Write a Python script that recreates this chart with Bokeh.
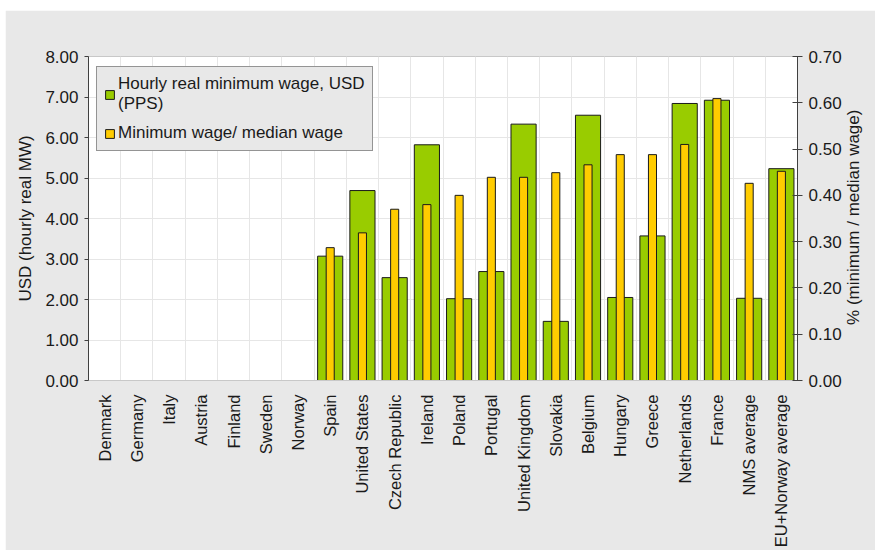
import math
from bokeh.plotting import figure
from bokeh.models import (ColumnDataSource, Range1d, LinearAxis, FixedTicker,
                          NumeralTickFormatter, Legend, LegendItem, FactorRange)
from bokeh.embed import file_html
from bokeh.resources import INLINE

# ---- data ----
countries = ["Denmark", "Germany", "Italy", "Austria", "Finland", "Sweden", "Norway",
             "Spain", "United States", "Czech Republic", "Ireland", "Poland", "Portugal",
             "United Kingdom", "Slovakia", "Belgium", "Hungary", "Greece", "Netherlands",
             "France", "NMS average", "EU+Norway average"]
hourly_mw_usd = [None, None, None, None, None, None, None,
                 3.07, 4.69, 2.54, 5.82, 2.02, 2.69, 6.33, 1.46, 6.55, 2.05, 3.57,
                 6.84, 6.92, 2.03, 5.23]
mw_median_ratio = [None, None, None, None, None, None, None,
                   0.287, 0.319, 0.370, 0.380, 0.400, 0.439, 0.439, 0.449, 0.466,
                   0.488, 0.488, 0.510, 0.609, 0.426, 0.452]
left_ticks = [0.0, 1.0, 2.0, 3.0, 4.0, 5.0, 6.0, 7.0, 8.0]
right_ticks = [0.0, 0.1, 0.2, 0.3, 0.4, 0.5, 0.6, 0.7]
legend_labels = ["Hourly real minimum wage, USD\n(PPS)", "Minimum wage/ median wage"]
left_label = "USD (hourly real MW)"
right_label = "% (minimum / median wage)"

# ---- source (only countries with data) ----
keep = [i for i, v in enumerate(hourly_mw_usd) if v is not None]
src = ColumnDataSource(dict(
    country=[countries[i] for i in keep],
    mw=[hourly_mw_usd[i] for i in keep],
    ratio=[mw_median_ratio[i] for i in keep],
))

FONT = "Liberation Sans"
FS = "17px"
GRAY_BG = "#E8E8E8"
TXT = "#1A1A1A"
RIGHT_TITLE_START = 0.12   # where the rotated right title begins (layout position)

p = figure(x_range=FactorRange(*countries), y_range=Range1d(left_ticks[0], left_ticks[-1]),
           width=870, height=540, margin=(10, 0, 0, 5),
           output_backend="svg", toolbar_location=None,
           min_border_left=83, min_border_top=46, min_border_right=67, min_border_bottom=168,
           background_fill_color="white", border_fill_color=GRAY_BG,
           outline_line_color="#C8C8C8")
p.extra_y_ranges = {"ratio": Range1d(right_ticks[0], right_ticks[-1])}

g = p.vbar(x="country", top="mw", width=0.78, source=src,
           fill_color="#99CC00", line_color="#1A1A1A", line_width=1)
y = p.vbar(x="country", top="ratio", width=0.25, source=src, y_range_name="ratio",
           fill_color="#FFCC00", line_color="#1A1A1A", line_width=1)

# grids
p.ygrid.ticker = FixedTicker(ticks=left_ticks)
p.ygrid.grid_line_color = "#E6E6E6"
p.xgrid.ticker = FixedTicker(ticks=list(range(1, len(countries))))
p.xgrid.grid_line_color = "#E6E6E6"

# left axis
ya = p.yaxis[0]
ya.ticker = FixedTicker(ticks=left_ticks)
ya.formatter = NumeralTickFormatter(format="0.00")
ya.axis_line_color = "#404040"
ya.major_tick_line_color = "#404040"
ya.major_tick_out = 4
ya.major_tick_in = 0
ya.minor_tick_line_color = None
ya.major_label_text_font = FONT
ya.major_label_text_font_size = FS
ya.major_label_text_color = TXT
ya.major_label_standoff = 6
ya.axis_label = left_label
ya.axis_label_text_font = FONT
ya.axis_label_text_font_size = FS
ya.axis_label_text_font_style = "normal"
ya.axis_label_text_color = TXT
ya.axis_label_standoff = 7

# right axis
ra = LinearAxis(y_range_name="ratio", ticker=FixedTicker(ticks=right_ticks),
                formatter=NumeralTickFormatter(format="0.00"))
ra.axis_line_color = "#404040"
ra.major_tick_line_color = "#404040"
ra.major_tick_out = 5
ra.major_tick_in = 5
ra.minor_tick_line_color = None
ra.major_label_text_font = FONT
ra.major_label_text_font_size = FS
ra.major_label_text_color = TXT
ra.major_label_standoff = 6
p.add_layout(ra, "right")

# right-hand title, reading bottom-to-top as in the reference
ta = LinearAxis(y_range_name="ratio", ticker=FixedTicker(ticks=[RIGHT_TITLE_START]),
                major_label_overrides={RIGHT_TITLE_START: right_label},
                major_label_orientation=math.pi / 2)
ta.axis_line_color = None
ta.major_tick_line_color = None
ta.minor_tick_line_color = None
ta.major_tick_out = 0
ta.major_tick_in = 0
ta.major_label_text_font = FONT
ta.major_label_text_font_size = FS
ta.major_label_text_color = TXT
ta.major_label_standoff = 9
p.add_layout(ta, "right")

# x axis
xa = p.xaxis[0]
xa.major_label_orientation = math.pi / 2
xa.major_tick_line_color = None
xa.minor_tick_line_color = None
xa.axis_line_color = "#C8C8C8"
xa.major_label_text_font = FONT
xa.major_label_text_font_size = "16.5px"
xa.major_label_text_color = TXT
xa.major_label_standoff = 8

legend = Legend(items=[LegendItem(label=legend_labels[0], renderers=[g]),
                       LegendItem(label=legend_labels[1], renderers=[y])],
                location=(8, 229), glyph_width=11, glyph_height=11,
                label_text_font=FONT, label_text_font_size=FS,
                label_text_color=TXT,
                background_fill_color=GRAY_BG, background_fill_alpha=1.0,
                border_line_color="#404040", border_line_width=1,
                padding=7, spacing=9, label_standoff=3, margin=0)
p.add_layout(legend)

open("out.html", "w").write(file_html(p, INLINE))
